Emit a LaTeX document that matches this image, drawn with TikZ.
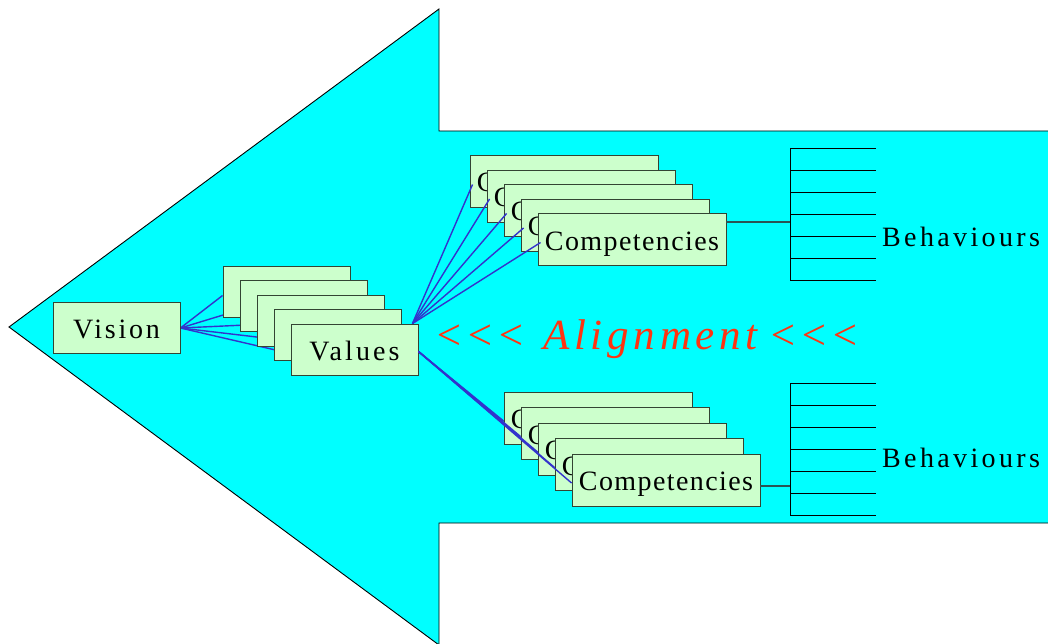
\documentclass[tikz,border=0pt]{standalone}
\usepackage{fontspec}
\setmainfont{Liberation Serif}
\newfontfamily\fVis[LetterSpace=10]{Liberation Serif}
\newfontfamily\fVal[LetterSpace=11]{Liberation Serif}
\newfontfamily\fComp[LetterSpace=5]{Liberation Serif}
\newfontfamily\fBeh[LetterSpace=12]{Liberation Serif}
\newfontfamily\fAlign[LetterSpace=11]{Liberation Serif}
\newcommand\ltri{<\kern2pt<\kern2pt<}
\usetikzlibrary{backgrounds}
\definecolor{arrowcyan}{HTML}{00FFFF}
\definecolor{boxfill}{HTML}{CCFFCC}
\definecolor{boxline}{HTML}{334433}
\definecolor{linkblue}{HTML}{3333CC}
\definecolor{linkteal}{HTML}{2A5555}
\definecolor{alignred}{HTML}{FF3311}
\begin{document}
\begin{tikzpicture}[x=1pt,y=-1pt,
  cardbox/.style={draw=boxline, line width=0.9pt, fill=boxfill, inner sep=0pt,
    text height=21pt, text depth=0pt, font=\fontsize{28}{30}\selectfont},
  valbox/.style={cardbox, minimum width=127pt, minimum height=51pt},
  compbox/.style={cardbox, minimum width=188pt, minimum height=52pt},
  link/.style={draw=linkblue, line width=1.4pt},
  stub/.style={draw=linkteal, line width=1.3pt},
  brack/.style={draw=black, line width=0.9pt},
  behtext/.style={anchor=base west, inner sep=0pt, font=\fontsize{28}{30}\selectfont}
]
\useasboundingbox (0,0) rectangle (1048,644);

% boxes
\node[valbox] (vis) at (116.5,328) {\fVis Vision};
\foreach \k in {1,...,5}{
  \node[valbox] (val\k) at ({286.5+17*(\k-1)},{291.5+14.5*(\k-1)}) {\fVal Values};
}
\foreach \k in {1,...,5}{
  \node[compbox] (uc\k) at ({564+17*(\k-1)},{181.5+14.5*(\k-1)}) {\fComp Competencies};
}
\foreach \k in {1,...,5}{
  \node[compbox] (lc\k) at ({598+17*(\k-1)},{418+15.5*(\k-1)}) {\fComp Competencies};
}

% background: arrow and vision links
\begin{pgfonlayer}{background}
  \draw[fill=arrowcyan, draw=black, line width=0.9pt]
    (9,327) -- (439,9) -- (439,131) -- (1060,131) -- (1060,523)
    -- (439,523) -- (439,645) -- cycle;
  \foreach \k in {1,...,5}{
    \draw[link] (vis.east) -- ([yshift=-4pt]val\k.west);
  }
\end{pgfonlayer}

% links from values to competencies
\coordinate (vtop) at ([xshift=-6pt]val5.north east);
\foreach \k in {1,...,5}{
  \draw[link] (vtop) -- ([xshift=3pt,yshift=-3pt]uc\k.west);
  \draw[link] ([yshift=-2pt]val5.east) -- ([yshift=-3pt]lc\k.west);
}

% behaviour brackets
\coordinate (ub) at (790,222);
\coordinate (lb) at (790,486);
\draw[stub] (uc5.east |- ub) -- (ub);
\draw[stub] (lc5.east |- lb) -- (lb);
\draw[brack] (790,148) -- (790,280);
\foreach \y in {148,170,192,214,236,258,280}{
  \draw[brack] (790,\y) -- (876,\y);
}
\draw[brack] (790,383) -- (790,515);
\foreach \y in {383,405,427,449,471,493,515}{
  \draw[brack] (790,\y) -- (876,\y);
}
\node[behtext] (beh1) at (882,247) {\fBeh Behaviours};
\node[behtext] (beh2) at (882,467) {\fBeh Behaviours};

% alignment
\node[anchor=base west, inner sep=0pt, text=alignred] (align) at (434,349)
  {\fontsize{43}{45}\selectfont\itshape \ltri\hspace{18pt}{\fAlign\itshape Alignment}\hspace{11pt}\ltri};
\end{tikzpicture}
\end{document}
